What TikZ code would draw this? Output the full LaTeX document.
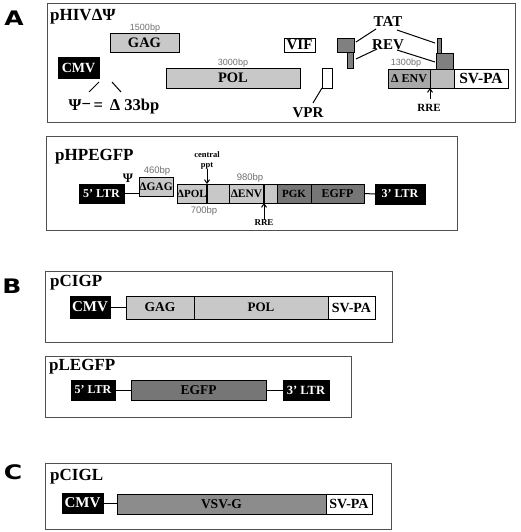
\documentclass[tikz,border=0pt]{standalone}
\usepackage{fontspec}
\setmainfont{Liberation Serif}
\newfontfamily\lsans{Liberation Sans}
\newfontfamily\dsans{DejaVu Sans}
\usetikzlibrary{arrows.meta}
\definecolor{lg}{HTML}{C8C8C8}
\definecolor{mg}{HTML}{A8A8A8}
\definecolor{mg2}{HTML}{BCBCBC}
\definecolor{dg}{HTML}{808080}
\definecolor{eg}{HTML}{767676}
\definecolor{vg}{HTML}{8C8C8C}
\definecolor{bpc}{HTML}{707070}
\definecolor{frc}{HTML}{505050}
\newcommand\gbox[7]{%
  \pgfmathsetmacro\bw{#4-#2}\pgfmathsetmacro\bh{#5-#3}%
  \node[#6, anchor=north west, minimum width=\bw pt, minimum height=\bh pt] (#1) at (#2,#3) {#7};}
\begin{document}
\begin{tikzpicture}[x=1pt,y=-1pt,
  tf/.style={font=\fontsize{#1}{#1}\selectfont\bfseries},
  seg/.style={draw=black, line width=0.9pt, inner sep=0pt, outer sep=0pt},
  blk/.style={seg, fill=black, text=white},
  lgb/.style={seg, fill=lg},
  wb/.style={seg, fill=white},
  frame/.style={draw=frc, line width=1pt},
  bp/.style={font=\lsans\fontsize{#1}{#1}\selectfont, text=bpc, inner sep=0pt},
  lbl/.style={font=\dsans\bfseries\fontsize{20}{20}\selectfont, xscale=1.25, inner sep=0pt},
  conn/.style={line width=1pt},
  arr/.style={line width=1pt, -{Straight Barb[length=3.5pt,width=5pt]}}
]
\useasboundingbox (0,0) rectangle (520,532);
\fill[white] (0,0) rectangle (520,532);

% ---------- Panel A ----------
\node[lbl] (labA) at (14,18) {A};
\draw[frame] (47,4) rectangle (515,122);
\node[tf=17, anchor=west, inner sep=0pt] (tA1) at (50,17) {pHIVΔΨ};

\gbox{gagA}{110}{33}{179}{52}{lgb, tf=14.5}{GAG}
\node[bp=9] (bp1500) at (145,28) {1500bp};
\gbox{cmvA}{58}{57}{99}{78}{blk, tf=14}{CMV}
\coordinate (l1a) at (99,82); \coordinate (l1b) at (89,92);
\coordinate (l2a) at (112,82); \coordinate (l2b) at (121,92);
\draw[conn] (l1a) -- (l1b);
\draw[conn] (l2a) -- (l2b);
\node[tf=16.5, inner sep=0pt] (psi) at (114,107) {Ψ\raisebox{0.25ex}{−}\,=\, Δ 33bp};

\gbox{polA}{166}{68}{300}{88}{lgb, tf=14.5}{POL}
\node[bp=9] (bp3000) at (233,63) {3000bp};
\gbox{vif}{284}{38}{315}{52}{wb, tf=15}{VIF}
\gbox{vprb}{322}{68}{332}{88}{wb}{}
\coordinate (vprl) at (313,103);
\draw[conn] (vprb.south west) -- (vprl);
\node[tf=15, inner sep=0pt] (vprt) at (308,113) {VPR};

\gbox{tat1}{337}{38}{354}{52}{seg, fill=dg}{}
\gbox{rev1}{347}{52}{353}{68}{seg, fill=dg}{}
\gbox{tat2}{437}{38}{441}{53}{seg, fill=dg}{}
\gbox{rev2}{436}{53}{453}{69}{seg, fill=dg}{}
\node[tf=15, inner sep=0pt] (tatt) at (388,22) {TAT};
\node[tf=15, inner sep=0pt] (revt) at (388,45) {REV};
\coordinate (t1) at (356,42); \coordinate (t2) at (376,29);
\coordinate (t3) at (397,30); \coordinate (t4) at (435,43);
\coordinate (r1) at (356,59); \coordinate (r2) at (377,49);
\coordinate (r3) at (397,50); \coordinate (r4) at (435,62);
\draw[conn] (t1) -- (t2); \draw[conn] (t3) -- (t4);
\draw[conn] (r1) -- (r2); \draw[conn] (r3) -- (r4);

\gbox{envA}{388}{69}{430}{88}{seg, fill=mg, tf=12}{Δ ENV}
\gbox{envA2}{430}{69}{454}{88}{seg, fill=mg2}{}
\gbox{svA}{454}{69}{508}{88}{wb, tf=15.5}{SV-PA}
\node[bp=9] (bp1300) at (406,63) {1300bp};
\coordinate (rreA) at (430,99);
\draw[arr] (rreA) -- (envA2.south west);
\node[tf=11, inner sep=0pt] (rreAt) at (429,108) {RRE};

% ---------- Panel A2 ----------
\draw[frame] (46,136) rectangle (457,230);
\node[tf=17, anchor=west, inner sep=0pt] (tA2) at (55,157) {pHPEGFP};
\gbox{ltr5a}{79}{184}{124}{203}{blk, tf=12}{5' LTR}
\gbox{dgag}{139}{177}{173}{196}{lgb, tf=11.5}{ΔGAG}
\draw[conn] (ltr5a.east) -- (ltr5a.east -| dgag.west);
\node[tf=13, inner sep=0pt] (psi2) at (128,178) {Ψ};
\node[bp=9.5] (bp460) at (157,171) {460bp};
\gbox{dpol}{177}{184}{207}{203}{lgb, tf=11}{ΔPOL}
\gbox{dpol2}{207}{184}{229}{203}{lgb}{}
\node[font=\bfseries\fontsize{8.5}{8.5}\selectfont, inner sep=0pt] (cen) at (207,155) {central};
\node[font=\bfseries\fontsize{8.5}{8.5}\selectfont, inner sep=0pt] (ppt) at (207,166) {ppt};
\draw[arr] (ppt.south) -- (207,184);
\draw[line width=1.3pt] (dpol2.north west) -- (dpol2.south west);
\node[bp=9.5] (bp700) at (204,211) {700bp};
\gbox{denv}{229}{184}{264}{203}{lgb, tf=11.5}{ΔENV}
\gbox{denv2}{264}{184}{277}{203}{lgb}{}
\draw[line width=1.3pt] (denv2.north west) -- (denv2.south west);
\node[bp=9.5] (bp980) at (250,178) {980bp};
\node[font=\bfseries\fontsize{9}{9}\selectfont, inner sep=0pt] (rre2) at (264,223) {RRE};
\draw[arr] (rre2.north) -- (denv2.south west);
\gbox{pgk}{277}{184}{311}{203}{seg, fill=eg, tf=11}{PGK}
\gbox{egfpA}{311}{184}{364}{203}{seg, fill=eg, tf=12}{EGFP}
\gbox{ltr3a}{375}{184}{425}{204}{blk, tf=12}{3' LTR}
\draw[conn] (egfpA.east) -- (ltr3a.west);

% ---------- Panel B ----------
\node[lbl] (labB) at (12,286) {B};
\draw[frame] (45,271) rectangle (392,342);
\node[tf=17, anchor=west, inner sep=0pt] (tB1) at (50,283) {pCIGP};
\gbox{cmvB}{70}{296}{110}{318}{blk, tf=15}{CMV}
\gbox{gagB}{126}{296}{194}{319}{lgb, tf=13.5}{GAG}
\gbox{polB}{194}{296}{328}{319}{lgb, tf=13}{POL}
\gbox{svB}{328}{296}{375}{319}{wb, tf=14}{SV-PA}
\draw[conn] (cmvB.east) -- (cmvB.east -| gagB.west);

\draw[frame] (45,356) rectangle (351,417);
\node[tf=17, anchor=west, inner sep=0pt] (tB2) at (49,367) {pLEGFP};
\gbox{ltr5b}{71}{380}{115}{400}{blk, tf=12}{5' LTR}
\gbox{egfpB}{131}{380}{266}{400}{seg, fill=eg, tf=13.5}{EGFP}
\gbox{ltr3b}{283}{380}{329}{400}{blk, tf=12.5}{3' LTR}
\draw[conn] (ltr5b.east) -- (egfpB.west);
\draw[conn] (egfpB.east) -- (ltr3b.west);

% ---------- Panel C ----------
\node[lbl] (labC) at (13,472) {C};
\draw[frame] (45,463) rectangle (391,529);
\node[tf=17, anchor=west, inner sep=0pt] (tC) at (50,477) {pCIGL};
\gbox{cmvC}{62}{493}{103}{513}{blk, tf=15}{CMV}
\gbox{vsv}{117}{494}{326}{514}{seg, fill=vg, tf=13.5}{VSV-G}
\gbox{svC}{326}{494}{372}{514}{wb, tf=14}{SV-PA}
\draw[conn] (cmvC.east) -- (cmvC.east -| vsv.west);
\end{tikzpicture}
\end{document}
